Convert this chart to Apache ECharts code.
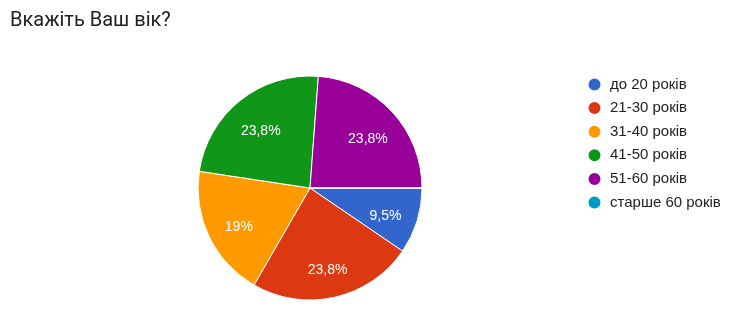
<!DOCTYPE html>
<html>
<head>
<meta charset="utf-8">
<script src="https://cdn.jsdelivr.net/npm/echarts@6/dist/echarts.min.js"></script>
<style>
html,body{margin:0;padding:0;background:#fff;}
#c{width:739px;height:323px;}
</style>
</head>
<body>
<div id="c"></div>
<script>
const categories = ['до 20 років', '21-30 років', '31-40 років', '41-50 років', '51-60 років', 'старше 60 років'];
const counts = [2, 5, 4, 5, 5, 0];
const colors = ['#3366cc', '#dc3912', '#ff9900', '#109618', '#990099', '#0099c6'];
const titleText = 'Вкажіть Ваш вік?';

const total = counts.reduce((a, b) => a + b, 0);
const data = categories.map((n, i) => ({ name: n, value: counts[i], itemStyle: { color: colors[i] } }));
const labelData = categories.map((n, i) => ({ name: n, value: counts[i], itemStyle: { color: 'rgba(0,0,0,0)' } }));

function fmt(p) {
  if (!p.value) return '';
  let s = (p.value / total * 100).toFixed(1);
  if (s.endsWith('.0')) s = s.slice(0, -2);
  return s.replace('.', ',') + '%';
}

const chart = echarts.init(document.getElementById('c'));
chart.setOption({
  animation: false,
  title: {
    text: titleText,
    left: 10, top: 11, padding: 0,
    textStyle: { fontFamily: 'Roboto', fontSize: 20, fontWeight: 'normal', color: '#202124' }
  },
  legend: {
    orient: 'vertical',
    left: 586.5, top: 76.5, padding: 0,
    icon: 'circle',
    itemWidth: 14, itemHeight: 14,
    itemGap: 7.6,
    data: categories.map((n, i) => ({ name: n, itemStyle: { color: colors[i] } })),
    textStyle: { fontFamily: 'Arial, Liberation Sans', fontSize: 15, color: '#222', padding: [0, 0, 0, 3.5] }
  },
  series: [
    {
      type: 'pie',
      center: [310, 188],
      radius: [0, 112],
      startAngle: 0,
      clockwise: true,
      data: data,
      label: { show: false },
      labelLine: { show: false },
      itemStyle: { borderColor: '#fff', borderWidth: 1 },
      emphasis: { disabled: true }
    },
    {
      type: 'pie',
      center: [310, 188],
      radius: [40, 112],
      startAngle: 0,
      clockwise: true,
      data: labelData,
      silent: true,
      label: {
        show: true, position: 'inside', formatter: fmt, offset: [0, 5],
        color: '#fff', fontFamily: 'Arial, Liberation Sans', fontSize: 14
      },
      labelLine: { show: false },
      itemStyle: { borderWidth: 0 },
      emphasis: { disabled: true }
    }
  ]
});
</script>
</body>
</html>
